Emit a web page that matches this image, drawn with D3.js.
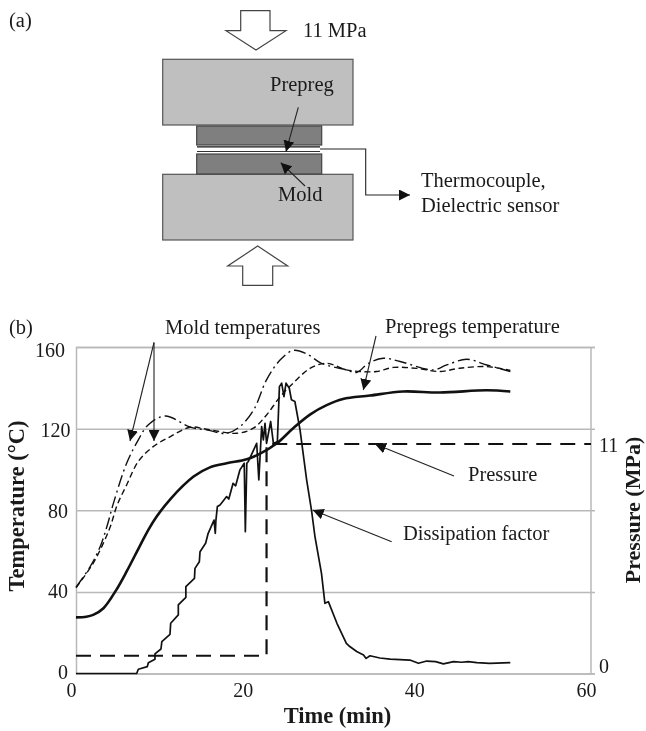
<!DOCTYPE html>
<html><head><meta charset="utf-8">
<script src="https://cdn.jsdelivr.net/npm/d3@7/dist/d3.min.js"></script>
<style>
html,body{margin:0;padding:0;background:#fff}
svg{display:block;filter:blur(0.4px)}
text{font-family:"Liberation Serif",serif;fill:#1a1a1a}
</style></head><body>
<svg id="c" width="646" height="731"></svg>
<script>
const timeTicks=[0,20,40,60];
const tempTicks=[0,40,80,120,160];
const pressureTicks=[0,11];
const pressure=[[0,0.46],[22.2,0.46],[22.2,11],[60,11]];
const prepregTemp=[[0,27.5],[1.2,27.8],[2,28.7],[3.2,32],[4.7,41],[5.9,50],[7.4,62.2],[8.43,70.4],[9.4,76.9],[11,85.5],[13.7,96.5],[15.6,101],[17.55,103],[19.9,105],[21.4,107.6],[23.4,112.8],[25.3,120.2],[27.3,127],[29.2,131.5],[31.1,134.5],[34.25,136.2],[38.1,138.2],[42.4,137.7],[47.85,138.8],[50.6,138.2]];
const moldTempUpper=[[0,42.3],[1.6,52],[2.8,62],[3.6,72],[4.4,84],[5.9,103],[7.26,114.5],[8.4,121.8],[10.4,126.2],[13.3,120.7],[15.2,119.4],[17.55,117.7],[19.1,121],[20.7,129.2],[22.2,143.9],[23.8,153.7],[25.3,158.3],[26.9,156.6],[28.6,152],[31.5,148.8],[32.7,147.5],[34.05,152],[35.8,154.5],[37.75,152.9],[41.6,148.8],[43.2,151.2],[45.5,154],[47.85,151.2],[50.6,148]];
const moldTempLower=[[0,42],[2,54],[3.2,64],[4,72],[4.8,82.6],[5.9,92.4],[7.26,103.9],[9,111.2],[11,116.1],[13.3,120.7],[15.2,119.7],[18.7,117.7],[20.66,120.2],[22.2,126.7],[23.8,135.7],[25.3,142.3],[27.3,149.6],[29.2,152],[31.5,148.8],[33.1,148],[35,148],[37,150],[39.7,149.5],[42.4,148],[44.7,149.6],[47.85,150.4],[50.6,148.5]];
const dissipation=[[0,0],[7.07,0],[7.26,2.1],[8.31,3.4],[8.43,5.3],[9.2,7],[9.2,9.6],[9.9,12],[10,15.6],[10.95,19.2],[11.03,24.6],[11.92,28.7],[11.92,33.6],[12.8,37.3],[12.8,42.6],[13.8,46.6],[13.86,51.5],[14.37,54.8],[14.45,59.7],[15.1,63.8],[15.4,68.7],[16.08,75.2],[16.23,68.7],[16.3,75],[16.47,81.8],[16.78,82.6],[17.55,86.7],[17.8,85.5],[18.3,93.2],[18.6,92],[19.1,99.8],[19.6,103],[19.73,69.5],[19.9,103],[20.08,103.9],[21.05,112.8],[21.3,94.9],[21.63,121],[21.83,114.5],[22.02,122.6],[22.2,112.8],[22.68,123.5],[23,112.8],[23.46,113.6],[23.7,140.6],[23.96,142.3],[24.23,135.7],[24.47,142.3],[24.85,139.8],[25.1,134.1],[25.5,133.3],[26.1,119.4],[26.87,94.9],[27.46,79.3],[27.84,67.1],[28.6,49.1],[29,34.4],[29.4,35.2],[30.4,24.6],[31.5,14.8],[31.9,13.2],[32.7,10.8],[33.5,9.1],[33.8,7.4],[34.25,8.7],[35.4,7.6],[36.6,7],[38.9,6.6],[39.9,5],[40.86,6.1],[41.9,5.8],[42.8,4.7],[44,5.8],[44.9,5.5],[45.7,5.8],[46.7,5.3],[48.2,5],[50.6,5.3]];

const svg=d3.select("#c");
const defs=svg.append("defs");
defs.append("marker").attr("id","ah").attr("viewBox","0 0 10 10").attr("refX",10).attr("refY",5)
 .attr("markerWidth",11).attr("markerHeight",11).attr("markerUnits","userSpaceOnUse").attr("orient","auto")
 .append("path").attr("d","M0,0L10,5L0,10Z").attr("fill","#111");

/* ---------- panel (a) schematic ---------- */
const a=svg.append("g");
const block=(x0,y0,x1,y1,f,s)=>a.append("rect").attr("x",x0).attr("y",y0).attr("width",x1-x0).attr("height",y1-y0).attr("fill",f).attr("stroke",s).attr("stroke-width",1.2);
const poly=pts=>a.append("polygon").attr("points",pts.map(p=>p.join(",")).join(" ")).attr("fill","#fff").attr("stroke","#444").attr("stroke-width",1.2);
poly([[240.7,10.7],[270,10.7],[270,30.7],[286,30.7],[256,50],[226,30.7],[240.7,30.7]]);
poly([[257.7,246],[287.7,266],[272.7,266],[272.7,285.3],[242.7,285.3],[242.7,266],[227.7,266]]);
block(162.7,59.3,353,125,"#bfbfbf","#555");
block(162.7,174.3,353,240,"#bfbfbf","#555");
block(196.7,126,321.7,145,"#7f7f7f","#444");
block(196.7,154,321.7,174,"#7f7f7f","#444");
a.append("line").attr("x1",197).attr("x2",320).attr("y1",146.8).attr("y2",146.8).attr("stroke","#111").attr("stroke-width",1.2);
a.append("line").attr("x1",197).attr("x2",320).attr("y1",151.5).attr("y2",151.5).attr("stroke","#333").attr("stroke-width",1.2);
const note=(g,pts)=>g.append("path").attr("d",d3.line()(pts)).attr("fill","none").attr("stroke","#222").attr("stroke-width",1.1).attr("marker-end","url(#ah)");
note(a,[[320,149],[365.7,149],[365.7,195],[410,195]]);
note(a,[[298.3,107.3],[286,151.7]]);
note(a,[[305,186],[280.7,162.7]]);
const lab=(g,x,y,t,o={})=>g.append("text").attr("x",x).attr("y",y).attr("font-size",o.size||20.5).attr("font-weight",o.bold?"bold":null).attr("text-anchor",o.anchor||"start").text(t);
lab(a,9,27,"(a)");
lab(a,303,37,"11 MPa");
lab(a,270,91,"Prepreg");
lab(a,278,201,"Mold");
lab(a,421,187,"Thermocouple,");
lab(a,421,212,"Dielectric sensor");

/* ---------- panel (b) chart ---------- */
const xL=76,xR=591,yB=673.5,yT=347;
const x=d3.scaleLinear().domain([0,60]).range([xL,xR]);
const yTemp=d3.scaleLinear().domain([0,160]).range([yB,yT]);
const yTempLabel=d3.scaleLinear().domain([0,160]).range([671.7,350]);
const yP=d3.scaleLinear().domain([0,11]).range([665,444]);
const b=svg.append("g");
const grey="#b9b9b9";
b.append("g").attr("transform",`translate(${xL},0)`)
 .call(d3.axisRight(yTemp).tickValues(tempTicks).tickSize(595-xL).tickFormat(""))
 .call(g=>g.select(".domain").attr("stroke",grey).attr("stroke-width",1.5))
 .call(g=>g.selectAll(".tick line").attr("stroke",grey).attr("stroke-width",1.5));
b.append("line").attr("x1",xR).attr("x2",xR).attr("y1",yT).attr("y2",yB).attr("stroke",grey).attr("stroke-width",1.5);
b.append("g").attr("transform",`translate(68,0)`)
 .call(d3.axisLeft(yTempLabel).tickValues(tempTicks).tickSize(0).tickPadding(0))
 .call(g=>g.select(".domain").remove())
 .call(g=>g.selectAll("text").attr("font-size",20).attr("font-family",null).attr("x",d=>d===160?-3:d===120?2.5:0));
b.append("g").attr("transform",`translate(-5,${yB+4})`)
 .call(d3.axisBottom(x).tickValues(timeTicks).tickSize(0).tickPadding(5))
 .call(g=>g.select(".domain").remove())
 .call(g=>g.selectAll("text").attr("font-size",20).attr("font-family",null));
b.append("g").attr("transform",`translate(${xR+4},1)`)
 .call(d3.axisRight(yP).tickValues(pressureTicks).tickSize(0).tickPadding(4))
 .call(g=>g.select(".domain").remove())
 .call(g=>g.selectAll("text").attr("font-size",20).attr("font-family",null));

const lineT=d3.line().x(d=>x(d[0])).y(d=>yTemp(d[1]));
const smooth=d3.line().x(d=>x(d[0])).y(d=>yTemp(d[1])).curve(d3.curveCatmullRom.alpha(0.5));
const lineP=d3.line().x(d=>x(d[0])).y(d=>yP(d[1]));
const draw=(gen,data,w,dash)=>b.append("path").attr("d",gen(data)).attr("fill","none").attr("stroke","#111").attr("stroke-width",w).attr("stroke-dasharray",dash||null).attr("stroke-linejoin","round");
draw(smooth,moldTempUpper,1.4,"12,4,2,4");
draw(smooth,moldTempLower,1.4,"6,3.5");
draw(lineP,pressure,2.2,"15,9");
draw(lineT,dissipation,1.7);
draw(smooth,prepregTemp,2.6);

lab(b,9,334,"(b)");
lab(b,165,334,"Mold temperatures");
lab(b,385,333,"Prepregs temperature");
lab(b,468,481,"Pressure");
lab(b,403,540,"Dissipation factor");
note(b,[[154,342.5],[130,441]]);
note(b,[[154,342.5],[154,441]]);
note(b,[[376,336],[363.3,390]]);
note(b,[[454,476],[375,444]]);
note(b,[[391.7,541.7],[312.7,510]]);
lab(b,337.5,723,"Time (min)",{bold:true,size:22.5,anchor:"middle"});
b.append("text").attr("transform","translate(24,506) rotate(-90)").attr("text-anchor","middle").attr("font-size",22.5).attr("font-weight","bold").text("Temperature (°C)");
b.append("text").attr("transform","translate(640,510) rotate(-90)").attr("text-anchor","middle").attr("font-size",22).attr("font-weight","bold").text("Pressure (MPa)");
</script></body></html>
